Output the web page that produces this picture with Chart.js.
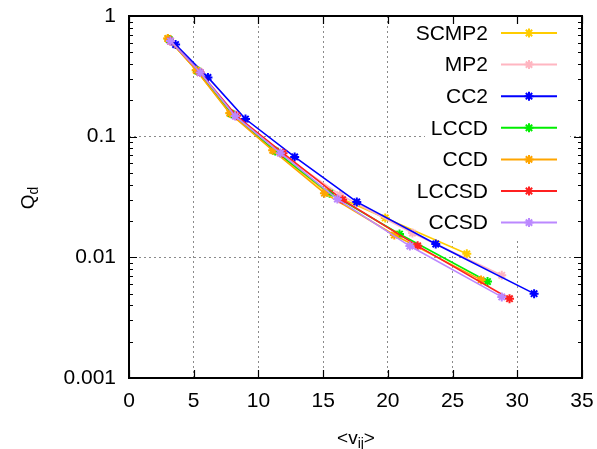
<!DOCTYPE html>
<html>
<head>
<meta charset="utf-8">
<script src="https://cdn.jsdelivr.net/npm/chart.js@4"></script>
<style>
html,body{margin:0;padding:0;background:#fff;}
#c{display:block;}
</style>
</head>
<body>
<canvas id="c" width="597" height="449"></canvas>
<script>
// ---- data ----
const seriesNames = ['SCMP2','MP2','CC2','LCCD','CCD','LCCSD','CCSD'];
const seriesColors = ['#ffcc00','#ffb6c1','#0000ff','#00ee00','#ffa500','#ff2020','#bb88ff'];

const scmp2X = [3.0, 5.2, 7.8, 11.2, 15.2, 19.8, 26.1];
const scmp2Y = [0.65, 0.355, 0.157, 0.077, 0.035, 0.0212, 0.0107];
const mp2X   = [3.1, 5.4, 8.0, 11.5, 16.3, 21.9, 28.8];
const mp2Y   = [0.64, 0.35, 0.155, 0.075, 0.033, 0.0159, 0.0071];
const cc2X   = [3.6, 6.1, 9.0, 12.8, 17.6, 23.7, 31.3];
const cc2Y   = [0.58, 0.31, 0.14, 0.068, 0.0288, 0.0129, 0.0050];
const lccdX  = [3.1, 5.3, 7.9, 11.3, 15.5, 20.9, 27.7];
const lccdY  = [0.64, 0.35, 0.155, 0.076, 0.034, 0.0156, 0.0063];
const ccdX   = [3.0, 5.2, 7.8, 11.1, 15.1, 20.5, 27.2];
const ccdY   = [0.65, 0.355, 0.156, 0.077, 0.034, 0.0153, 0.0065];
const lccsdX = [3.2, 5.5, 8.3, 11.9, 16.5, 22.3, 29.4];
const lccsdY = [0.62, 0.34, 0.149, 0.073, 0.030, 0.01245, 0.00454];
const ccsdX  = [3.2, 5.5, 8.2, 11.7, 16.1, 21.7, 28.8];
const ccsdY  = [0.62, 0.34, 0.148, 0.073, 0.0304, 0.0124, 0.0047];

const xTicks = [0, 5, 10, 15, 20, 25, 30, 35];
const yTickLabels = ['0.001', '0.01', '0.1', '1'];
const xTitle = ['<v', 'ij', '>'];
const yTitle = ['Q', 'd'];

const allX = [scmp2X, mp2X, cc2X, lccdX, ccdX, lccsdX, ccsdX];
const allY = [scmp2Y, mp2Y, cc2Y, lccdY, ccdY, lccsdY, ccsdY];

const FONT = "'Liberation Sans', Arial, sans-serif";

function isDecade(v){ const l = Math.log10(v); return Math.abs(l - Math.round(l)) < 1e-9; }

function drawStar(ctx, x, y, r){
  ctx.beginPath();
  ctx.moveTo(x - r, y); ctx.lineTo(x + r, y);
  ctx.moveTo(x, y - r); ctx.lineTo(x, y + r);
  const d = r * 0.7071;
  ctx.moveTo(x - d, y - d); ctx.lineTo(x + d, y + d);
  ctx.moveTo(x - d, y + d); ctx.lineTo(x + d, y - d);
  ctx.stroke();
}

const framePlugin = {
  id: 'frame',
  beforeDatasetsDraw(chart){
    const ctx = chart.ctx;
    ctx.save();
    ctx.fillStyle = '#fff';
    ctx.fillRect(425, 17, 145, 221);
    ctx.restore();
  },
  afterDraw(chart){
    const ctx = chart.ctx, a = chart.chartArea;
    const xs = chart.scales.x, ys = chart.scales.y;
    ctx.save();
    // inward ticks
    ctx.strokeStyle = '#000';
    ctx.lineWidth = 1.2;
    ctx.beginPath();
    xTicks.forEach(v => {
      const px = Math.round(xs.getPixelForValue(v)) + 0.5;
      ctx.moveTo(px, a.bottom); ctx.lineTo(px, a.bottom - 8);
      ctx.moveTo(px, a.top); ctx.lineTo(px, a.top + 8);
    });
    for (let e = -3; e <= 0; e++) {
      for (let m = 1; m <= 9; m++) {
        const v = m * Math.pow(10, e);
        if (v > 1.0000001) continue;
        const py = Math.round(ys.getPixelForValue(v)) + 0.5;
        const len = m === 1 ? 8 : 4;
        ctx.moveTo(a.left, py); ctx.lineTo(a.left + len, py);
        ctx.moveTo(a.right, py); ctx.lineTo(a.right - len, py);
      }
    }
    ctx.stroke();
    // frame
    ctx.lineWidth = 2;
    ctx.strokeRect(a.left, a.top, a.right - a.left, a.bottom - a.top);

    // legend
    ctx.font = '21px ' + FONT;
    ctx.textBaseline = 'middle';
    ctx.textAlign = 'right';
    chart.data.datasets.forEach((ds, i) => {
      const y = 33 + i * 31.6;
      ctx.fillStyle = '#000';
      ctx.fillText(ds.label, 488, y + 1);
      ctx.strokeStyle = ds.borderColor;
      ctx.lineWidth = 2;
      ctx.beginPath(); ctx.moveTo(501, y); ctx.lineTo(557, y); ctx.stroke();
      ctx.lineWidth = 2;
      drawStar(ctx, 529, y, 4.5);
    });

    // axis titles
    ctx.fillStyle = '#000';
    ctx.textAlign = 'left';
    ctx.textBaseline = 'alphabetic';
    // x title
    ctx.font = '19px ' + FONT;
    const w0 = ctx.measureText(xTitle[0]).width;
    ctx.font = '14px ' + FONT;
    const w1 = ctx.measureText(xTitle[1]).width;
    ctx.font = '19px ' + FONT;
    const w2 = ctx.measureText(xTitle[2]).width;
    let sx = 356 - (w0 + w1 + w2) / 2;
    const by = 444;
    ctx.fillText(xTitle[0], sx, by);
    ctx.font = '14px ' + FONT;
    ctx.fillText(xTitle[1], sx + w0, by + 4);
    ctx.font = '19px ' + FONT;
    ctx.fillText(xTitle[2], sx + w0 + w1, by);
    // y title
    ctx.translate(34, 198);
    ctx.rotate(-Math.PI / 2);
    ctx.font = '19px ' + FONT;
    const q0 = ctx.measureText(yTitle[0]).width;
    ctx.font = '14px ' + FONT;
    const q1 = ctx.measureText(yTitle[1]).width;
    const qx = -(q0 + q1) / 2;
    ctx.font = '19px ' + FONT;
    ctx.fillText(yTitle[0], qx, 0);
    ctx.font = '14px ' + FONT;
    ctx.fillText(yTitle[1], qx + q0, 4);
    ctx.restore();
  }
};

const datasets = seriesNames.map((name, i) => ({
  label: name,
  data: allX[i].map((x, k) => ({ x: x, y: allY[i][k] })),
  borderColor: seriesColors[i],
  backgroundColor: seriesColors[i],
  borderWidth: 1.6,
  pointStyle: 'star',
  pointRadius: 4.5,
  pointBorderWidth: 2,
  pointBorderColor: seriesColors[i],
  tension: 0,
  fill: false,
  order: seriesNames.length - 1 - i
}));

new Chart(document.getElementById('c'), {
  type: 'line',
  data: { datasets: datasets },
  options: {
    responsive: false,
    animation: false,
    events: [],
    layout: { padding: { top: 16, right: 15, left: 0, bottom: 0 } },
    plugins: { legend: { display: false }, tooltip: { enabled: false }, title: { display: false } },
    scales: {
      x: {
        type: 'linear', min: 0, max: 35,
        afterBuildTicks: s => { s.ticks = xTicks.map(v => ({ value: v })); },
        ticks: { color: '#000', font: { family: FONT, size: 21 }, padding: 11, maxRotation: 0, autoSkip: false },
        grid: {
          drawTicks: false, lineWidth: 1,
          color: c => (c.tick && c.tick.value > 0 && c.tick.value < 35) ? '#8a8a8a' : 'rgba(0,0,0,0)'
        },
        border: { display: false, dash: [2, 3] },
        afterFit: s => { s.height = 71; s.paddingLeft = 0; s.paddingRight = 0; }
      },
      y: {
        type: 'logarithmic', min: 0.001, max: 1,
        ticks: {
          color: '#000', font: { family: FONT, size: 21 }, padding: 13, autoSkip: false,
          callback: v => isDecade(v) ? yTickLabels[Math.round(Math.log10(v)) + 3] : ''
        },
        grid: {
          drawTicks: false, lineWidth: 1,
          color: c => (c.tick && isDecade(c.tick.value) && c.tick.value > 0.0011 && c.tick.value < 0.99) ? '#8a8a8a' : 'rgba(0,0,0,0)'
        },
        border: { display: false, dash: [2, 3] },
        afterFit: s => { s.width = 129; s.paddingTop = 0; s.paddingBottom = 0; }
      }
    }
  },
  plugins: [framePlugin]
});
</script>
</body>
</html>
